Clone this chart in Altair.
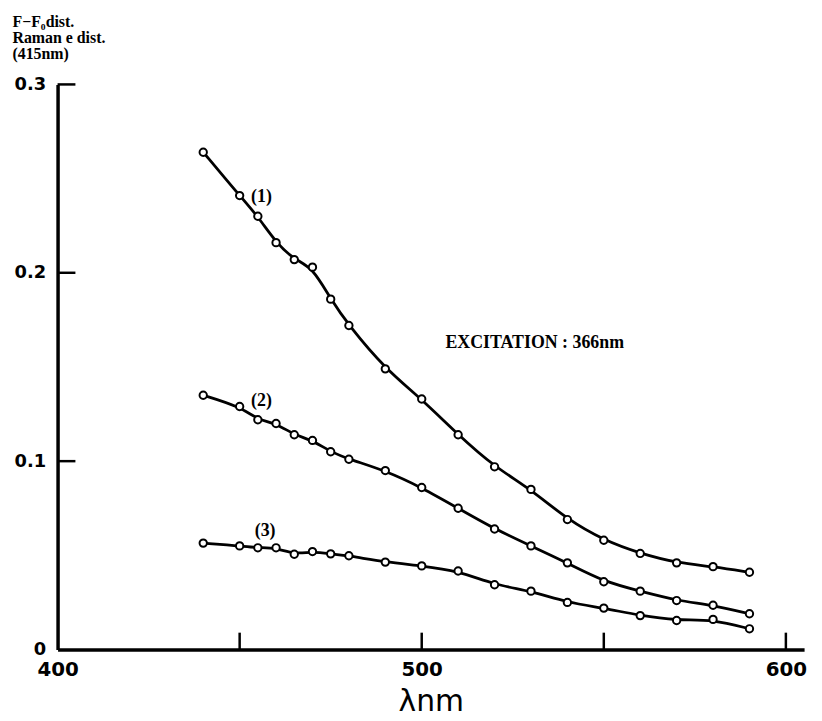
import altair as alt
import pandas as pd

# ---- data ----
wavelength = [440, 450, 455, 460, 465, 470, 475, 480, 490, 500,
              510, 520, 530, 540, 550, 560, 570, 580, 590]
curve1 = [0.264, 0.241, 0.230, 0.216, 0.207, 0.203, 0.186, 0.172, 0.149, 0.133,
          0.114, 0.097, 0.085, 0.069, 0.058, 0.051, 0.046, 0.044, 0.041]
curve2 = [0.135, 0.129, 0.122, 0.120, 0.114, 0.111, 0.105, 0.101, 0.095, 0.086,
          0.075, 0.064, 0.055, 0.046, 0.036, 0.031, 0.026, 0.0235, 0.019]
curve3 = [0.0565, 0.055, 0.054, 0.054, 0.0506, 0.052, 0.0508, 0.0498, 0.0464, 0.0444,
          0.0417, 0.0344, 0.031, 0.025, 0.022, 0.018, 0.0154, 0.016, 0.011]
series_names = ["(1)", "(2)", "(3)"]

label_text = ["(1)", "(2)", "(3)"]
label_x = [456, 456, 457]
label_y = [0.240, 0.132, 0.063]

note_text = ["EXCITATION : 366nm"]
note_x = [506.5]
note_y = [0.1625]

x_tick_values = [450, 500, 550, 600]
x_label_values = [400, 500, 600]
y_tick_values = [0.1, 0.2, 0.3]
y_label_values = [0, 0.1, 0.2, 0.3]
y_title = ["F\u2212F\u2080dist.", "Raman e dist.", "\u2002(415nm)"]
x_title = "\u03bbnm"

# ---- tables ----
rows = []
for name, vals in zip(series_names, [curve1, curve2, curve3]):
    for w, v in zip(wavelength, vals):
        rows.append({"wavelength": w, "value": v, "series": name})
df = pd.DataFrame(rows)
labels_df = pd.DataFrame({"wavelength": label_x, "value": label_y, "text": label_text})
note_df = pd.DataFrame({"wavelength": note_x, "value": note_y, "text": note_text})
xt_df = pd.DataFrame({"wavelength": x_tick_values})
yt_df = pd.DataFrame({"value": y_tick_values})

W, H = 753, 570
xscale = alt.Scale(domain=[400, 605], nice=False, zero=False)
yscale = alt.Scale(domain=[0, 0.3], nice=False, zero=True)

xaxis = alt.Axis(values=x_label_values, ticks=False, grid=False, domainWidth=3.5,
                 domainColor="black", labelFont="DejaVu Sans", labelFontSize=20,
                 labelFontWeight="bold", labelColor="black", labelPadding=10,
                 labelFlush=False, title=x_title, titleFont="DejaVu Sans",
                 titleFontSize=30, titleFontWeight="normal", titleColor="black",
                 titlePadding=8)
yaxis = alt.Axis(values=y_label_values, ticks=False, grid=False, domainWidth=3.5,
                 domainColor="black", labelFont="DejaVu Sans", labelFontSize=18,
                 labelFontWeight="bold", labelColor="black", labelPadding=12,
                 labelExpr="datum.value == 0 ? '0' : format(datum.value, '.1f')",
                 title=y_title, titleAngle=0, titleAlign="left", titleBaseline="top",
                 titleX=-46, titleY=-71, titleFont="Liberation Serif",
                 titleFontSize=16, titleFontWeight="bold", titleColor="black",
                 titleLineHeight=16)

lines = alt.Chart(df).mark_line(interpolate="basis", color="black", strokeWidth=2.8).encode(
    x=alt.X("wavelength:Q", scale=xscale, axis=xaxis),
    y=alt.Y("value:Q", scale=yscale, axis=yaxis),
    detail="series:N",
)
points = alt.Chart(df).mark_point(shape="circle", filled=True, fill="white",
                                  stroke="black", strokeWidth=2, size=55, opacity=1).encode(
    x="wavelength:Q", y="value:Q", detail="series:N"
)
labels = alt.Chart(labels_df).mark_text(font="Liberation Serif", fontSize=18,
                                        fontWeight="bold", color="black",
                                        align="center", baseline="middle").encode(
    x="wavelength:Q", y="value:Q", text="text:N"
)
note = alt.Chart(note_df).mark_text(font="Liberation Serif", fontSize=18,
                                    fontWeight="bold", color="black",
                                    align="left", baseline="middle").encode(
    x="wavelength:Q", y="value:Q", text="text:N"
)
xticks = alt.Chart(xt_df).mark_rule(color="black", strokeWidth=2.5).encode(
    x="wavelength:Q", y=alt.value(H), y2=alt.value(H - 17)
)
yticks = alt.Chart(yt_df).mark_rule(color="black", strokeWidth=2.5).encode(
    y="value:Q", x=alt.value(0), x2=alt.value(18)
)

chart = alt.layer(lines, points, labels, note, xticks, yticks).properties(
    width=W, height=H,
    autosize=alt.AutoSizeParams(type="none"),
    padding={"left": 50, "top": 74, "right": 10, "bottom": 68},
    background="white",
).configure_view(stroke=None)

chart.save("out.html", embed_options={"renderer": "svg", "actions": False})
